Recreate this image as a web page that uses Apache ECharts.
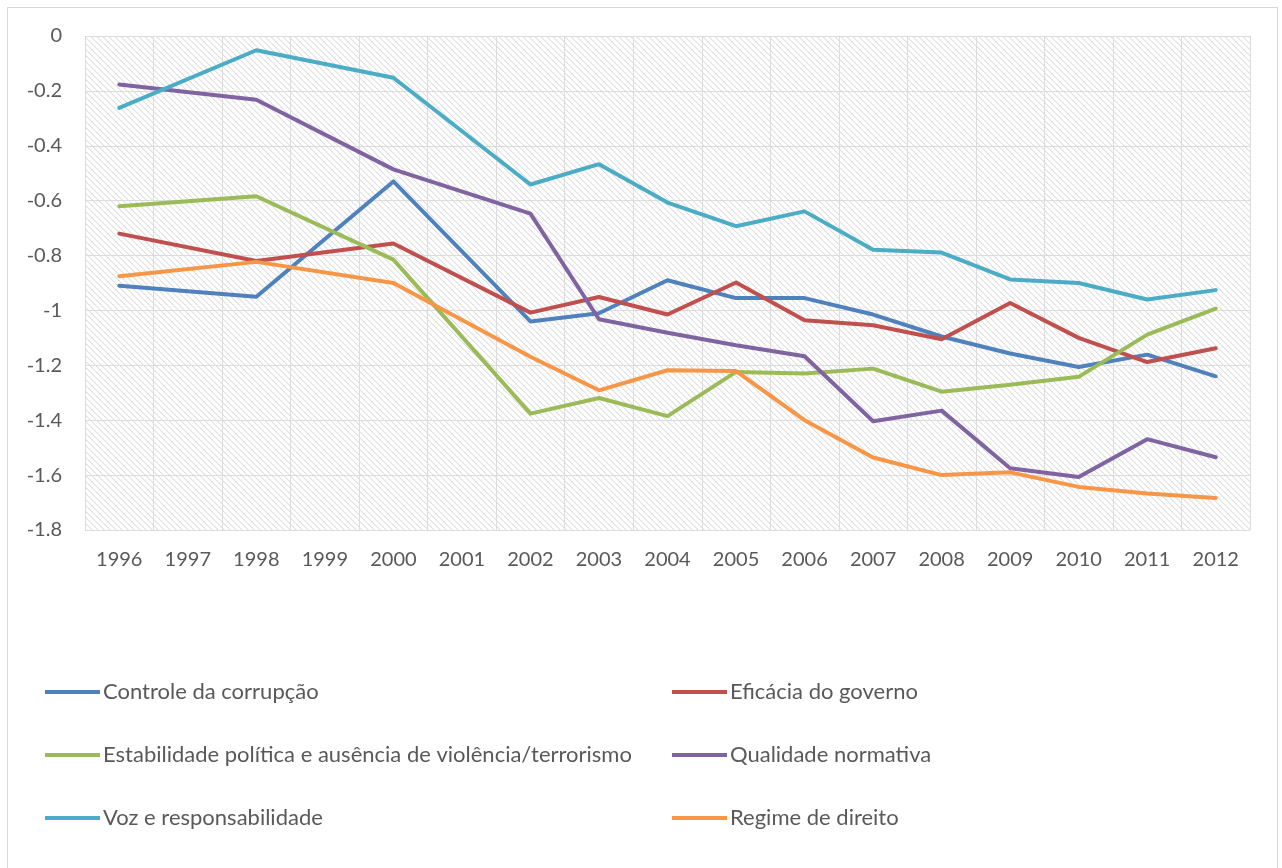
<!DOCTYPE html>
<html>
<head>
<meta charset="utf-8">
<script src="https://cdn.jsdelivr.net/npm/echarts@6/dist/echarts.min.js"></script>
<style>
html,body{margin:0;padding:0;background:#fff;}
#frame{position:absolute;left:7px;top:7px;width:1271px;height:870px;border:1px solid #d9d9d9;box-sizing:border-box;}
#chart{position:absolute;left:0;top:0;width:1282px;height:868px;}
</style>
</head>
<body>
<div id="frame"></div>
<div id="chart"></div>
<script>
const years = ['1996','1997','1998','1999','2000','2001','2002','2003','2004','2005','2006','2007','2008','2009','2010','2011','2012'];
const yTicks = [0,-0.2,-0.4,-0.6,-0.8,-1,-1.2,-1.4,-1.6,-1.8];

const controleCorrupcao = [-0.91,null,-0.95,null,-0.53,null,-1.04,-1.01,-0.89,-0.955,-0.955,-1.015,-1.095,-1.157,-1.206,-1.161,-1.24];
const eficaciaGoverno   = [-0.72,null,-0.82,null,-0.756,null,-1.008,-0.951,-1.015,-0.898,-1.036,-1.054,-1.105,-0.973,-1.10,-1.188,-1.138];
const estabilidade      = [-0.62,null,-0.584,null,-0.815,null,-1.376,-1.319,-1.385,-1.224,-1.23,-1.212,-1.296,-1.271,-1.242,-1.088,-0.993];
const qualidadeNormativa= [-0.177,null,-0.232,null,-0.486,null,-0.647,-1.032,-1.081,-1.127,-1.167,-1.404,-1.365,-1.575,-1.607,-1.469,-1.535];
const vozResponsab      = [-0.262,null,-0.052,null,-0.152,null,-0.541,-0.467,-0.607,-0.693,-0.639,-0.779,-0.789,-0.887,-0.90,-0.96,-0.926];
const regimeDireito     = [-0.875,null,-0.823,null,-0.90,null,-1.169,-1.291,-1.218,-1.221,-1.40,-1.536,-1.60,-1.59,-1.643,-1.667,-1.683];

const seriesDefs = [
  {name:'Controle da corrupção', data: controleCorrupcao, color:'#4F81BD'},
  {name:'Eficácia do governo', data: eficaciaGoverno, color:'#C0504D'},
  {name:'Estabilidade política e ausência de violência/terrorismo', data: estabilidade, color:'#9BBB59'},
  {name:'Qualidade normativa', data: qualidadeNormativa, color:'#8064A2'},
  {name:'Voz e responsabilidade', data: vozResponsab, color:'#4BACC6'},
  {name:'Regime de direito', data: regimeDireito, color:'#F79646'}
];

// hatch pattern tile
const tile = document.createElement('canvas');
tile.width = 6; tile.height = 6;
const tctx = tile.getContext('2d');
const img = tctx.createImageData(6,6);
for (let y=0;y<6;y++) for (let x=0;x<6;x++){
  const d = ((x - y) % 6 + 6) % 6;
  const i = (y*6+x)*4;
  let v = 255;
  if (d===0) v = 222; else if (d===1) v = 242;
  img.data[i]=v; img.data[i+1]=v; img.data[i+2]=v; img.data[i+3]=255;
}
tctx.putImageData(img,0,0);

const font = 'Lato';
const textColor = '#595959';

const chart = echarts.init(document.getElementById('chart'), null, {renderer:'canvas'});
const legendCommon = {
  orient:'vertical', icon:'rect', itemWidth:55, itemHeight:4, itemGap:41, padding:0,
  textStyle:{fontFamily:font, fontSize:22, color:textColor, padding:[0,0,0,-2]}
};
chart.setOption({
  animation:false,
  backgroundColor:'transparent',
  grid:{left:85, top:36, width:1165, height:494, show:true, borderWidth:0,
        backgroundColor:{image: tile, repeat:'repeat'}},
  xAxis:{type:'category', data:years, boundaryGap:true,
    axisLine:{show:false}, axisTick:{show:false},
    axisLabel:{fontFamily:font, fontSize:20, color:textColor, margin:20, interval:0},
    splitLine:{show:true, interval:0, lineStyle:{color:'#dcdcdc', width:1}}},
  yAxis:{type:'value', min:-1.8, max:0, interval:0.2,
    axisLine:{show:false}, axisTick:{show:false},
    axisLabel:{fontFamily:font, fontSize:20, color:textColor, margin:23,
      formatter:function(v){ const r = Math.round(v*10)/10; return r===0 ? '0' : String(r); }},
    splitLine:{show:true, lineStyle:{color:'#dcdcdc', width:1}}},
  legend:[
    Object.assign({left:45, top:681, data:[seriesDefs[0].name, seriesDefs[2].name, seriesDefs[4].name]}, legendCommon),
    Object.assign({left:672, top:681, data:[seriesDefs[1].name, seriesDefs[3].name, seriesDefs[5].name]}, legendCommon)
  ],
  series: seriesDefs.map(s=>({
    name:s.name, type:'line', data:s.data, connectNulls:true,
    symbol:'none', showSymbol:false, color:s.color,
    lineStyle:{width:4, color:s.color, cap:'round', join:'round'}
  }))
});
</script>
</body>
</html>
